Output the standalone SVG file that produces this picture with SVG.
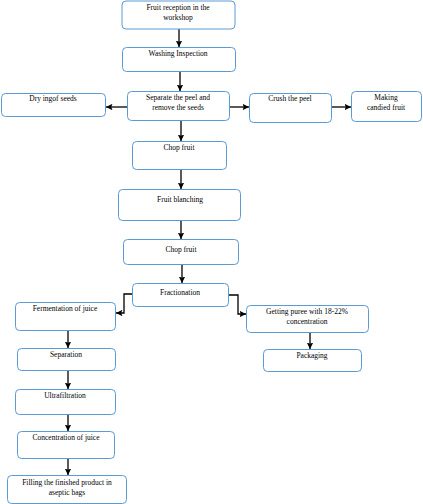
<svg xmlns="http://www.w3.org/2000/svg" width="423" height="504" viewBox="0 0 423 504">
<style>
.box{fill:#fff;stroke:#5b9bd5;stroke-width:1}
.t{font-family:"Liberation Serif","Times New Roman",serif;font-size:7.5px;fill:#000;text-anchor:middle}
.c{fill:none;stroke:#000;stroke-width:1.3}
</style>
<defs>
<marker id="ah" viewBox="0 0 10 10" refX="10" refY="5" markerWidth="6.5" markerHeight="6.5" orient="auto" markerUnits="userSpaceOnUse">
<path d="M0,0 L10,5 L0,10 L2,5 z" fill="#000"/>
</marker>
</defs>
<rect width="423" height="504" fill="#fff"/>
<g id="connectors">
<path class="c" d="M179,29 V47" marker-end="url(#ah)"/>
<path class="c" d="M180,71 V91" marker-end="url(#ah)"/>
<path class="c" d="M127,107 H106" marker-end="url(#ah)"/>
<path class="c" d="M229,107 H249" marker-end="url(#ah)"/>
<path class="c" d="M332,107 H351" marker-end="url(#ah)"/>
<path class="c" d="M181,121 V141" marker-end="url(#ah)"/>
<path class="c" d="M181,169 V189" marker-end="url(#ah)"/>
<path class="c" d="M181,221 V239" marker-end="url(#ah)"/>
<path class="c" d="M182,264 V283" marker-end="url(#ah)"/>
<path class="c" d="M132,294 H124 V313 H116" marker-end="url(#ah)"/>
<path class="c" d="M229,295 H238 V314 H246" marker-end="url(#ah)"/>
<path class="c" d="M68,330 V348" marker-end="url(#ah)"/>
<path class="c" d="M68,370 V389" marker-end="url(#ah)"/>
<path class="c" d="M68,414 V431" marker-end="url(#ah)"/>
<path class="c" d="M68,458 V475" marker-end="url(#ah)"/>
<path class="c" d="M310,332 V349" marker-end="url(#ah)"/>
</g>
<g id="n1"><rect class="box" x="122" y="1" width="113" height="28" rx="4"/><text class="t" x="178" y="10">Fruit reception in the</text><text class="t" x="178" y="20">workshop</text></g>
<g id="n2"><rect class="box" x="122.5" y="47.5" width="113" height="24" rx="4"/><text class="t" x="178" y="56">Washing Inspection</text></g>
<g id="n3"><rect class="box" x="127.5" y="91.5" width="102" height="29" rx="4"/><text class="t" x="178" y="100">Separate the peel and</text><text class="t" x="178" y="110">remove the seeds</text></g>
<g id="n4"><rect class="box" x="1.5" y="93.5" width="104" height="23" rx="4"/><text class="t" x="53" y="101">Dry ingof seeds</text></g>
<g id="n5"><rect class="box" x="249.5" y="93.5" width="82" height="29" rx="4"/><text class="t" x="290" y="101">Crush the peel</text></g>
<g id="n6"><rect class="box" x="351.5" y="91.5" width="70" height="30" rx="4"/><text class="t" x="386" y="100">Making</text><text class="t" x="386" y="110">candied fruit</text></g>
<g id="n7"><rect class="box" x="132.5" y="141.5" width="94" height="28" rx="4"/><text class="t" x="179" y="150">Chop  fruit</text></g>
<g id="n8"><rect class="box" x="118.5" y="189.5" width="122" height="31" rx="4"/><text class="t" x="180" y="202">Fruit blanching</text></g>
<g id="n9"><rect class="box" x="123.5" y="239.5" width="115" height="25" rx="4"/><text class="t" x="181" y="252">Chop fruit</text></g>
<g id="n10"><rect class="box" x="132.5" y="283.5" width="96" height="23" rx="4"/><text class="t" x="180" y="295">Fractionation</text></g>
<g id="n11"><rect class="box" x="15.5" y="302.5" width="100" height="28" rx="4"/><text class="t" x="65" y="311">Fermentation of juice</text></g>
<g id="n12"><rect class="box" x="246.5" y="305.5" width="122" height="27" rx="4"/><text class="t" x="307" y="314">Getting puree with 18-22%</text><text class="t" x="307" y="324">concentration</text></g>
<g id="n13"><rect class="box" x="17.5" y="348.5" width="98" height="22" rx="4"/><text class="t" x="66" y="357">Separation</text></g>
<g id="n14"><rect class="box" x="263.5" y="349.5" width="98" height="22" rx="4"/><text class="t" x="312" y="358">Packaging</text></g>
<g id="n15"><rect class="box" x="15.5" y="389.5" width="100" height="25" rx="4"/><text class="t" x="65" y="398">Ultrafiltration</text></g>
<g id="n16"><rect class="box" x="17.5" y="431.5" width="97" height="27" rx="4"/><text class="t" x="66" y="440">Concentration of juice</text></g>
<g id="n17"><rect class="box" x="7.5" y="475.5" width="119" height="28" rx="4"/><text class="t" x="67" y="485">Filling  the finished product in</text><text class="t" x="67" y="495">aseptic bags</text></g>
</svg>
